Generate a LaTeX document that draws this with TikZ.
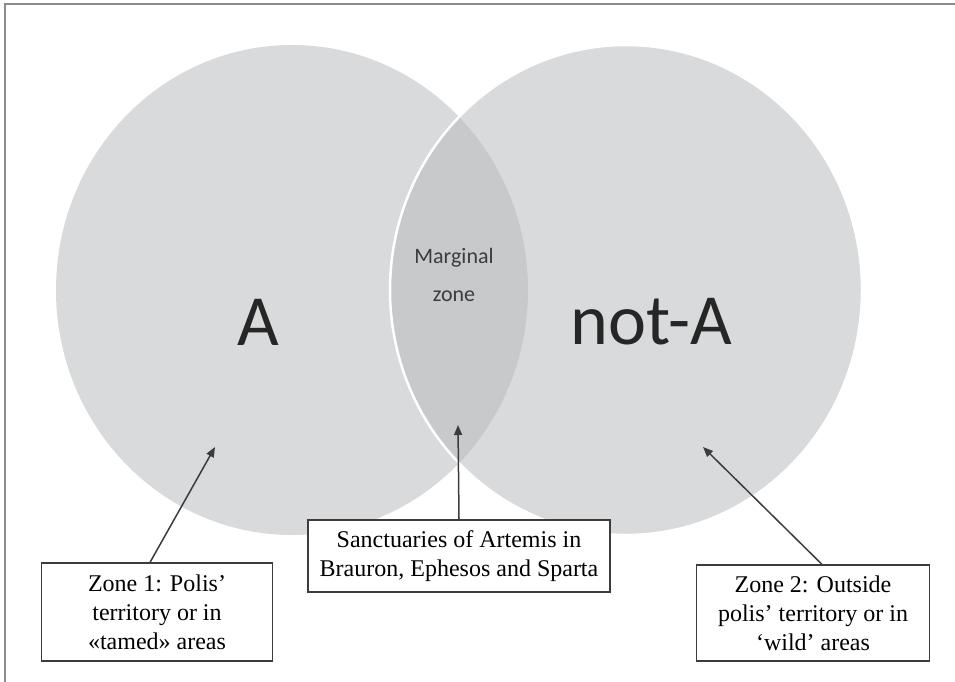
\documentclass[tikz,border=0pt]{standalone}
\usepackage{fontspec}
\setmainfont{Liberation Serif}
\newfontfamily\calibri{Carlito}
\usetikzlibrary{arrows.meta}
\definecolor{setgray}{RGB}{186,187,190}
\definecolor{framegray}{RGB}{140,140,140}
\definecolor{inkgray}{RGB}{60,60,60}

\begin{document}
\begin{tikzpicture}[x=1pt, y=-1pt]
	\useasboundingbox (0,0) rectangle (955,682);
	\draw [framegray, line width=1.8pt] (5,682) -- (5,4) -- (955,4);

	% the two sets
	\fill [setgray, fill opacity=0.55] (292,290) ellipse [x radius=236, y radius=245];
	\draw [white, line width=2.5pt, fill=setgray, fill opacity=0.55] (626,290) ellipse [x radius=236, y radius=245];

	\node (setA) [font=\calibri\fontsize{72}{80}\selectfont, text=black!85] at (258,322) {A};
	\node (notA) [font=\calibri\fontsize{72}{80}\selectfont, text=black!85] at (651,322) {not-A};
	\node (margin) [font=\calibri\fontsize{22}{38}\selectfont, text=inkgray, align=center] at (454,275) {Marginal\\zone};

	\coordinate (inA) at (215,447);
	\coordinate (inMargin) at (458,425);
	\coordinate (inNotA) at (703,447);

	\node (zoneone) [draw=inkgray, line width=1.2pt, fill=white, align=center, font=\fontsize{24}{29}\selectfont, minimum width=231pt, minimum height=98pt, inner sep=0pt] at (157,612) {Zone 1: Polis’\\territory or in\\«tamed» areas};
	\node (sanctuaries) [draw=inkgray, line width=1.2pt, fill=white, align=center, font=\fontsize{24}{29}\selectfont, minimum width=302pt, minimum height=72pt, inner sep=0pt] at (459,556) {Sanctuaries of Artemis in\\Brauron, Ephesos and Sparta};
	\node (zonetwo) [draw=inkgray, line width=1.2pt, fill=white, align=center, font=\fontsize{24}{29}\selectfont, minimum width=233pt, minimum height=96pt, inner sep=0pt] at (813,613) {Zone 2: Outside\\polis’ territory or in\\‘wild’ areas};

	\draw [-{Triangle[length=10pt, width=8pt]}, inkgray, line width=1.5pt] ([xshift=-7pt]zoneone.north) -- (inA);
	\draw [-{Triangle[length=10pt, width=8pt]}, inkgray, line width=1.5pt] (sanctuaries.north) -- (inMargin);
	\draw [-{Triangle[length=10pt, width=8pt]}, inkgray, line width=1.5pt] ([xshift=9pt]zonetwo.north) -- (inNotA);
\end{tikzpicture}
\end{document}
